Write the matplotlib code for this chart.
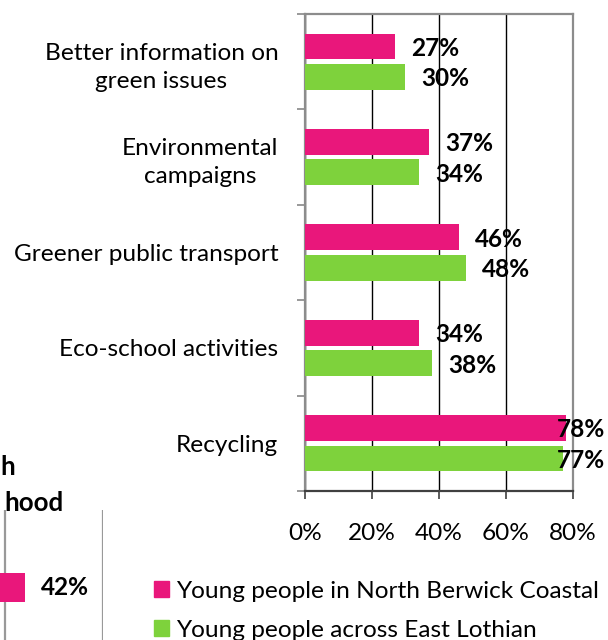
import numpy as np
import matplotlib
matplotlib.use('Agg')
import matplotlib.pyplot as plt
from matplotlib.patches import Patch

plt.rcParams['font.family'] = ['Lato', 'DejaVu Sans']

categories = ['Better information on\ngreen issues', 'Environmental\ncampaigns',
              'Greener public transport', 'Eco-school activities', 'Recycling']
north_berwick = [27, 37, 46, 34, 78]
east_lothian = [30, 34, 48, 38, 77]
series_names = ['Young people in North Berwick Coastal', 'Young people across East Lothian']
x_ticks = [0, 20, 40, 60, 80]

# part of a neighbouring chart that is cut off at the left edge
side_value = [42]
side_title = ['h', 'hood']

pink = '#E9177B'
green = '#7ED23C'
FS = 17.6

W, H = 608, 640
def px(l, t, r, b):
    return [l / W, 1 - b / H, (r - l) / W, (b - t) / H]

fig = plt.figure(figsize=(W / 100, H / 100), dpi=100)

# main chart
ax = fig.add_axes(px(304.7, 14, 572.7, 491))
y = np.arange(len(categories))
ax.barh(y - 0.16, north_berwick, height=0.27, color=pink, zorder=3)
ax.barh(y + 0.16, east_lothian, height=0.27, color=green, zorder=3)
ax.set_xlim(0, 80)
ax.set_ylim(len(categories) - 0.5, -0.5)

ax.set_xticks(x_ticks)
ax.set_xticklabels([f'{t}%' for t in x_ticks], fontsize=FS)
ax.set_yticks(y)
ax.set_yticklabels(categories, fontsize=FS)
for lab in ax.get_yticklabels():
    lab.set_multialignment('center')
    lab.set_linespacing(1.42)
ax.set_yticks(np.arange(-0.5, len(categories)), minor=True)
ax.tick_params(axis='y', which='major', length=0, pad=19)
ax.tick_params(axis='y', which='minor', length=6, width=1.2, color='#888888')
ax.tick_params(axis='x', length=6, width=1.2, color='#404040', pad=17)
ax.grid(axis='x', color='black', lw=1, zorder=1)

for s in ['top', 'right', 'left']:
    ax.spines[s].set_color('#8C8C8C')
    ax.spines[s].set_linewidth(1.6)
ax.spines['bottom'].set_color('#404040')
ax.spines['bottom'].set_linewidth(1.6)

for vals, off in [(north_berwick, -0.16), (east_lothian, 0.16)]:
    for v, yy in zip(vals, y):
        ax.text(min(v + 4.9, 75.3), yy + off + 0.02, f'{v}%', va='center', ha='left',
                fontsize=FS, fontweight='bold', clip_on=False, zorder=4)

ax.legend([Patch(color=pink), Patch(color=green)], series_names,
          loc='upper left', bbox_to_anchor=(154 / W, 1 - 581 / H),
          bbox_transform=fig.transFigure, frameon=False, borderpad=0,
          borderaxespad=0, handlelength=0.62, handleheight=0.62,
          handletextpad=0.3, labelspacing=0.72, fontsize=FS)

# cut-off chart on the left
ax2 = fig.add_axes(px(0, 510, 103, 640))
ax2.barh([0], side_value, height=0.5, color=pink, zorder=3)
ax2.set_xlim(39.49, 50)
ax2.set_ylim(0.905, -1.336)
ax2.set_xticks([40, 50])
ax2.set_yticks([])
ax2.tick_params(axis='x', length=0, labelbottom=False)
ax2.grid(axis='x', color='#999999', lw=1.6, zorder=1)
for s in ax2.spines.values():
    s.set_visible(False)
ax2.text(side_value[0] + 1.7, 0, f'{side_value[0]}%', va='center', ha='left',
         fontsize=FS, fontweight='bold')

fig.text(15 / W, 1 - 475 / H, side_title[0], ha='right', va='baseline',
         fontsize=FS + 1, fontweight='bold')
fig.text(64 / W, 1 - 511 / H, side_title[1], ha='right', va='baseline',
         fontsize=FS + 1, fontweight='bold')

fig.savefig('out.png', dpi=100)
